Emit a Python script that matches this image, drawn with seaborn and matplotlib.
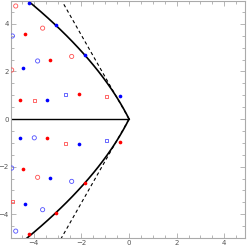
import matplotlib
matplotlib.use("Agg")
import matplotlib.pyplot as plt
import numpy as np
import pandas as pd
import seaborn as sns

# ----- data
# solid boundary curve (upper branch; lower branch is its reflection)
curve_up_x = [-4.405, -4.283, -3.984, -3.694, -3.413, -3.141, -2.878, -2.623, -2.378,
              -2.142, -1.914, -1.696, -1.486, -1.285, -1.093, -0.910, -0.736, -0.571,
              -0.415, -0.268, -0.129, 0.0]
curve_up_y = [5.10, 5.00, 4.75, 4.50, 4.25, 4.00, 3.75, 3.50, 3.25,
              3.00, 2.75, 2.50, 2.25, 2.00, 1.75, 1.50, 1.25, 1.00,
              0.75, 0.50, 0.25, 0.0]
curve_lo_x = curve_up_x
curve_lo_y = [-5.10, -5.00, -4.75, -4.50, -4.25, -4.00, -3.75, -3.50, -3.25,
              -3.00, -2.75, -2.50, -2.25, -2.00, -1.75, -1.50, -1.25, -1.00,
              -0.75, -0.50, -0.25, 0.0]

# dashed tangent lines
dash_up_x = [-2.87, 0.0]
dash_up_y = [5.05, 0.0]
dash_lo_x = [-2.87, 0.0]
dash_lo_y = [-5.05, 0.0]

# negative real axis
axis_x = [-5.0, 0.0]
axis_y = [0.0, 0.0]

# filled points
red_fill_x = [-4.37, -3.31, -4.58, -2.11, -3.45, -0.37, -4.45, -1.85, -3.07, -4.20]
red_fill_y = [3.57, 2.49, 0.79, 1.04, -0.81, -0.95, -2.11, -2.69, -3.94, -4.84]
blue_fill_x = [-4.20, -3.07, -4.44, -1.85, -3.45, -0.37, -4.58, -2.11, -3.31, -4.38]
blue_fill_y = [4.86, 3.94, 2.13, 2.69, 0.81, 0.95, -0.79, -1.05, -2.49, -3.58]

# open circles
red_circ_x = [-4.76, -3.63, -4.93, -2.41, -3.84]
red_circ_y = [4.75, 3.82, 2.06, 2.63, -2.45]
blue_circ_x = [-4.90, -3.84, -3.98, -4.93, -2.41, -3.63, -4.76]
blue_circ_y = [3.49, 2.44, -0.79, -2.06, -2.62, -3.81, -4.71]

# open squares
red_sq_x = [-3.97, -0.95, -2.66, -4.90]
red_sq_y = [0.79, 0.95, -1.02, -3.46]
blue_sq_x = [-2.66, -0.95]
blue_sq_y = [1.04, -0.92]

x_ticks = [-4, -2, 0, 2, 4]
y_ticks = [-4, -2, 0, 2, 4]

# ----- figure
sns.set_style("ticks")
plt.rcParams['font.family'] = ['DejaVu Sans']

fig = plt.figure(figsize=(2.49, 2.50), dpi=100)
ax = fig.add_axes([0.044, 0.047, 0.94, 0.949])

sns.lineplot(x=axis_x, y=axis_y, ax=ax, color="black", linewidth=1.0, sort=False, estimator=None)
sns.lineplot(x=dash_up_x, y=dash_up_y, ax=ax, color="black", linewidth=0.8, sort=False,
             estimator=None, dashes=False, linestyle=(0, (3, 2.5)))
sns.lineplot(x=dash_lo_x, y=dash_lo_y, ax=ax, color="black", linewidth=0.8, sort=False,
             estimator=None, dashes=False, linestyle=(0, (3, 2.5)))
sns.lineplot(x=curve_up_x, y=curve_up_y, ax=ax, color="black", linewidth=1.2, sort=False, estimator=None)
sns.lineplot(x=curve_lo_x, y=curve_lo_y, ax=ax, color="black", linewidth=1.2, sort=False, estimator=None)

sns.scatterplot(x=red_circ_x, y=red_circ_y, ax=ax, marker="o", s=9, facecolor="none",
                edgecolor="#ff5050", linewidth=0.6, zorder=3)
sns.scatterplot(x=blue_circ_x, y=blue_circ_y, ax=ax, marker="o", s=9, facecolor="none",
                edgecolor="#5050ff", linewidth=0.6, zorder=3)
sns.scatterplot(x=red_sq_x, y=red_sq_y, ax=ax, marker="s", s=4.5, facecolor="none",
                edgecolor="#ff5050", linewidth=0.6, zorder=3)
sns.scatterplot(x=blue_sq_x, y=blue_sq_y, ax=ax, marker="s", s=4.5, facecolor="none",
                edgecolor="#5050ff", linewidth=0.6, zorder=3)
sns.scatterplot(x=red_fill_x, y=red_fill_y, ax=ax, marker="o", s=7, color="red",
                linewidth=0, zorder=4)
sns.scatterplot(x=blue_fill_x, y=blue_fill_y, ax=ax, marker="o", s=7, color="blue",
                linewidth=0, zorder=4)

ax.set_xlim(-4.96, 4.87)
ax.set_ylim(-5.01, 4.96)
ax.set_xticks(x_ticks)
ax.set_yticks(y_ticks)
ax.set_xticks(np.arange(-4.5, 5, 0.5), minor=True)
ax.set_yticks(np.arange(-4.5, 5, 0.5), minor=True)
ax.set_xticklabels([f"\u2212{abs(t)}" if t < 0 else str(t) for t in x_ticks])
ax.set_yticklabels([f"\u2212{abs(t)}" if t < 0 else str(t) for t in y_ticks])
ax.tick_params(which="both", direction="in", top=True, right=True, color="#999999",
               width=0.5, labelsize=5, labelcolor="#555555", pad=1.5)
ax.tick_params(which="major", length=3.5)
ax.tick_params(which="minor", length=2)
for sp in ax.spines.values():
    sp.set_color("#aaaaaa")
    sp.set_linewidth(0.8)
ax.set_xlabel("")
ax.set_ylabel("")

fig.savefig("out.png", dpi=100)
